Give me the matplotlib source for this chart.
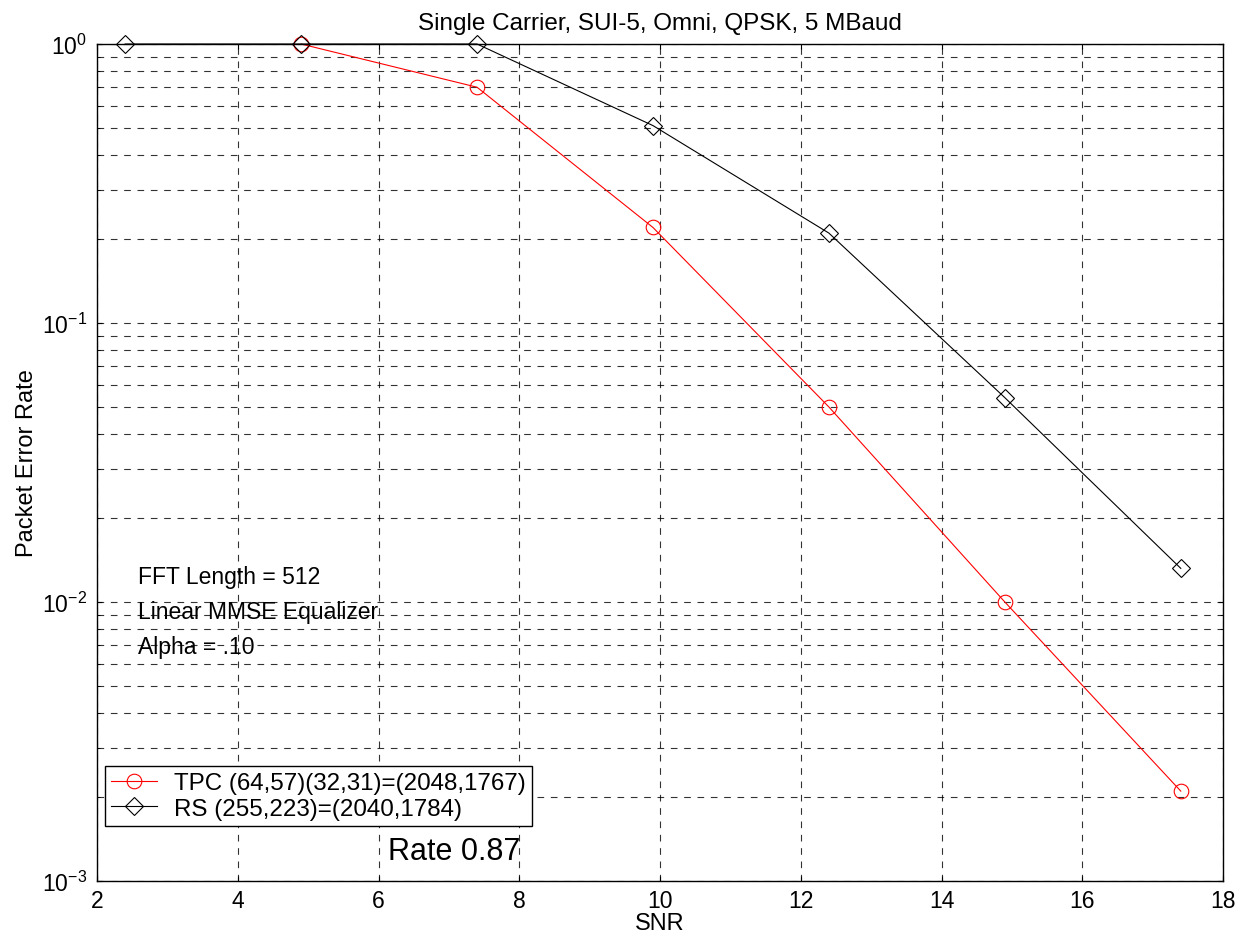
import numpy as np
import matplotlib.pyplot as plt

plt.rcParams['font.family'] = ['Liberation Sans', 'DejaVu Sans']
plt.rcParams['mathtext.fontset'] = 'custom'
plt.rcParams['mathtext.rm'] = 'Liberation Sans'
plt.rcParams['mathtext.it'] = 'Liberation Sans'
plt.rcParams['mathtext.default'] = 'regular'

snr_tpc = [4.9, 7.4, 9.9, 12.4, 14.9, 17.4]
per_tpc = [1.0, 0.7, 0.22, 0.05, 0.01, 0.0021]
snr_rs = [2.4, 4.9, 7.4, 9.9, 12.4, 14.9, 17.4]
per_rs = [1.0, 1.0, 1.0, 0.51, 0.21, 0.054, 0.0132]

lbl_tpc = 'TPC (64,57)(32,31)=(2048,1767)'
lbl_rs = 'RS (255,223)=(2040,1784)'
notes = ['FFT Length = 512', 'Linear MMSE Equalizer', 'Alpha = .10']

fig = plt.figure(figsize=(12.41, 9.45), dpi=100)
ax = fig.add_axes([97/1241, 63/945, 1126/1241, 837/945])

ax.semilogy(snr_tpc, per_tpc, '-o', color='r', lw=0.8, ms=10.5, mfc='none',
            mec='r', mew=0.8, label=lbl_tpc, clip_on=False)
ax.semilogy(snr_rs, per_rs, '-D', color='k', lw=0.8, ms=9.5, mfc='none',
            mec='k', mew=0.8, label=lbl_rs, clip_on=False)

ax.set_xlim(2, 18)
ax.set_ylim(1e-3, 1)
ax.set_xticks(np.arange(2, 19, 2))
ax.grid(True, which='both', ls=(0, (6, 6)), color='k', lw=0.8, alpha=0.8)
ax.tick_params(which='both', direction='in', top=True, right=True, labelsize=16.5)
ax.tick_params(axis='x', pad=6)
ax.tick_params(axis='y', pad=7)
for s in ax.spines.values():
    s.set_linewidth(1.0)

ax.set_title('Single Carrier, SUI-5, Omni, QPSK, 5 MBaud', fontsize=17.5, pad=11)
ax.set_xlabel('SNR', fontsize=17, labelpad=0)
ax.set_ylabel('Packet Error Rate', fontsize=17, labelpad=3)

for i, t in enumerate(notes):
    ax.text(0.036, 0.364 - i * 0.042, t, transform=ax.transAxes, fontsize=16.5,
            va='center')
ax.text(0.258, 0.036, 'Rate 0.87', transform=ax.transAxes, fontsize=22,
        va='center')

leg = ax.legend(loc='lower left', bbox_to_anchor=(0.007, 0.066), fontsize=17.4,
                fancybox=False, edgecolor='k', framealpha=1, borderaxespad=0,
                handlelength=1.9, handletextpad=0.7, labelspacing=0.15,
                borderpad=0.25)
leg.get_frame().set_linewidth(1.0)

fig.savefig('out.png', dpi=100)
